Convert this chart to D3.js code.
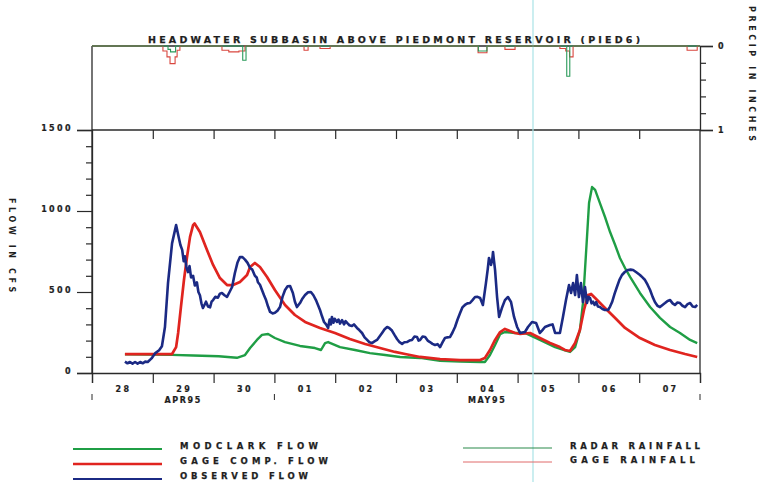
<!DOCTYPE html>
<html>
<head>
<meta charset="utf-8">
<script src="https://cdn.jsdelivr.net/npm/d3@7"></script>
<style>
  html, body { margin: 0; padding: 0; background: #ffffff; }
  svg { display: block; }
  text { font-family: "DejaVu Sans", sans-serif; font-weight: bold; fill: #1e1e1e; }
</style>
</head>
<body>
<svg id="chart" width="759" height="482"></svg>
<script>
// Hours are counted from 28 APR 1995 00:00; flows in cfs, rainfall in inches.
const dayLabels = ["28", "29", "30", "01", "02", "03", "04", "05", "06", "07"];
const monthLabels = [["APR95", 0, 72], ["MAY95", 72, 240]];
const flowTicks = [0, 500, 1000, 1500];
const rainTicks = [0, 1];

const modclarkFlow = [
  [13,115],[31.6,112],[40,108],[50,103],[57.2,94],[60.4,111],[62.4,154],[65.1,204],[67.1,235],
  [69.5,241],[72.2,216],[76.2,191],[82.1,167],[88,154],[90.4,142],[92,185],[93.2,191],[97.9,160],
  [103.8,142],[109.7,123],[115.7,111],[121.6,99],[129.5,93],[137.4,76],[145.3,70],[153.2,68],
  [155.1,68],[157.1,111],[159.1,173],[161.1,240],[163,253],[167,247],[170.9,247],[176.8,204],
  [182.8,160],[186.7,140],[188.7,130],[190.7,160],[192.6,265],[193.8,432],[194.6,636],[195.4,840],
  [196.2,1049],[197.4,1148],[198.6,1130],[200.5,1049],[202.5,963],[204.5,870],[206.5,790],
  [208.4,710],[210.4,648],[212.4,593],[216.3,494],[220.3,407],[224.2,340],[228.2,284],[232.1,247],
  [236.1,204],[238.9,185]
];

const gageCompFlow = [
  [13,117],[31.6,117],[33.2,160],[34,247],[35.1,407],[36.3,574],[37.5,716],[38.7,840],[39.9,913],
  [40.5,923],[42.6,870],[45.4,759],[47.8,667],[50.5,586],[53.3,543],[55.7,543],[58.4,562],
  [61.2,605],[62.4,654],[64.3,679],[66.3,654],[69.1,593],[72.2,512],[76.2,420],[80.1,358],
  [84.1,315],[90,278],[95.9,247],[101.8,210],[107.8,179],[113.7,154],[119.6,130],[123.6,117],
  [129.5,99],[137.4,86],[145.3,80],[153.2,80],[155.1,93],[157.1,142],[159.1,204],[161.1,253],
  [163,272],[165,259],[167,247],[169,241],[172.9,247],[176.8,216],[180.8,185],[184.7,160],
  [186.7,142],[188.7,136],[190.7,185],[192.6,265],[194.2,389],[195.8,481],[197,488],[198.6,463],
  [202.5,401],[206.5,340],[210.4,278],[216.3,216],[222.2,173],[228.2,142],[234.1,117],[238.9,99]
];

const observedFlow = [
  [13,70],[14,60],[15,68],[16,58],[17,68],[18,58],[19,68],[20,60],[21,70],[22,68],[23.5,90],
  [25,123],[26.5,140],[27.6,165],[28.8,284],[30,555],[31.6,800],[33.2,913],[34.2,840],[34.9,790],
  [35.6,760],[36.2,690],[36.7,720],[37.3,650],[37.9,623],[38.5,660],[39.1,590],[39.9,600],
  [40.6,540],[41.4,560],[42,500],[42.6,480],[43.2,430],[43.8,401],[44.4,420],[45,440],[45.8,410],
  [46.6,405],[47.2,440],[47.8,450],[48.7,470],[49.7,465],[50.5,490],[51.3,494],[52.3,480],
  [53.3,470],[54.3,500],[55.3,531],[56.4,617],[57.4,680],[58.4,716],[59.4,715],[60.4,700],
  [61.4,680],[62.4,648],[63.2,640],[64.3,600],[65,590],[65.5,560],[66.3,545],[67.1,512],
  [67.9,480],[68.7,450],[69.5,410],[70.3,377],[71.3,368],[72.2,372],[73.2,385],[74.2,407],
  [75.2,470],[76.2,512],[77.2,535],[78.2,537],[79.3,494],[80.1,440],[80.9,407],[82.1,432],
  [83.1,460],[84.1,481],[85.3,498],[86.4,500],[87.4,480],[88.4,450],[89.2,420],[90,389],
  [90.8,350],[91.6,315],[92.4,300],[93.2,278],[93.8,330],[94.3,300],[94.7,346],[95.3,310],
  [95.8,335],[96.7,315],[97.3,330],[97.9,305],[98.7,327],[99.5,300],[100.1,320],[100.7,309],
  [101.6,295],[102.6,290],[103.4,300],[104.6,278],[105.5,265],[106.6,247],[107.6,220],[108.6,204],
  [109.5,190],[110.5,185],[111.5,195],[112.5,204],[113.5,225],[114.5,247],[115.5,270],[116.5,284],
  [117.3,278],[118.4,262],[119.4,235],[120.4,210],[121.4,190],[122.4,180],[123.3,190],[124.3,191],
  [125.3,200],[126.3,204],[127.3,225],[128.3,222],[128.9,200],[129.5,204],[130.5,225],[131.5,222],
  [132.5,200],[133.4,191],[134.4,180],[135.4,173],[136.4,178],[137.4,160],[138.4,190],[139.3,216],
  [140.3,220],[141.3,222],[142.3,250],[143.3,284],[144.3,330],[145.3,370],[146.2,405],[147.2,420],
  [148.2,430],[149.2,432],[150.2,450],[151.2,469],[152.2,470],[153.2,463],[154.3,420],[155.5,555],
  [156.2,640],[156.7,710],[157.5,667],[158,700],[158.3,747],[158.7,690],[159.1,636],[159.9,469],
  [160.7,346],[161.8,401],[163,450],[164.2,469],[165.4,438],[166.6,346],[167.8,284],[169,247],
  [170.9,253],[172.1,284],[173.7,315],[175.3,309],[176.8,247],[177.8,265],[178.8,284],[180.8,296],
  [181.8,300],[182.8,247],[184.7,247],[185.9,346],[187.1,450],[188.3,543],[189.1,494],[189.9,555],
  [190.7,481],[191.4,605],[192.2,469],[193,555],[193.8,438],[194.6,531],[195.4,432],[196,470],
  [196.6,463],[197.2,430],[197.8,440],[198.4,420],[199,438],[199.7,410],[200.5,407],[201.5,395],
  [202.5,389],[203.7,389],[204.5,410],[205.3,438],[206.3,490],[207.2,531],[208.2,575],[209.2,605],
  [210.4,625],[211.6,636],[212.6,638],[213.6,636],[215,620],[216.3,605],[217.3,590],[218.3,574],
  [219.3,545],[220.3,512],[221.3,470],[222.2,438],[223.2,415],[224.2,407],[225.2,420],[226.2,432],
  [227.2,445],[228.2,450],[229.2,430],[230.1,420],[231.1,435],[232.1,432],[233.1,415],[234.1,407],
  [235.1,425],[236.1,432],[237.1,410],[238.1,407],[238.9,420]
];

// Rainfall as steps: each value holds from its hour until the next entry.
const radarRainfall = [
  [0,0],[30,0.04],[31,0.07],[33,0],[59.5,0.17],[60.8,0],[152.5,0.06],[155.9,0],
  [187.4,0.36],[188.6,0],[240,0]
];
const gageRainfall = [
  [0,0],[28,0.06],[29.6,0.13],[30.8,0.21],[32.8,0.13],[33.6,0.05],[34.7,0],[51.3,0.05],
  [54,0.07],[58,0.06],[60.4,0],[83.7,0.05],[85.3,0],[90,0.03],[94,0],[152.4,0.08],[155.9,0],
  [163,0.04],[167,0],[184.7,0.03],[187,0.06],[188.5,0.13],[189.9,0],[234.9,0.05],[238.9,0],[240,0]
];

const svg = d3.select("#chart");
const AXIS = "#2a2a2a";

const x = d3.scaleLinear().domain([0, 240]).range([92, 700]);
const yFlow = d3.scaleLinear().domain([0, 1500]).range([373, 130]);
const yRain = d3.scaleLinear().domain([0, 1]).range([46, 130]);

// Title
svg.append("text").attr("x", 148).attr("y", 43)
  .attr("font-size", 9.5).attr("textLength", 492).attr("lengthAdjust", "spacing")
  .attr("stroke", "#1e1e1e").attr("stroke-width", 0.25)
  .text("HEADWATER SUBBASIN ABOVE PIEDMONT RESERVOIR (PIED6)");

// Rainfall panel: left edge and right axis
svg.append("line").attr("x1", 92).attr("x2", 92).attr("y1", 46).attr("y2", 373)
  .attr("stroke", AXIS).attr("stroke-width", 1.3);
const rainAxis = svg.append("g").attr("transform", "translate(700,0)")
  .call(d3.axisRight(yRain).tickValues(rainTicks).tickSize(13).tickPadding(5).tickFormat(d3.format("d")));
svg.append("g").attr("transform", "translate(700,0)")
  .call(d3.axisRight(yRain).tickValues([0.2, 0.4, 0.6, 0.8]).tickSize(6).tickFormat(""))
  .select(".domain").remove();
svg.append("line").attr("x1", 92).attr("x2", 700).attr("y1", yRain(0)).attr("y2", yRain(0))
  .attr("stroke", AXIS).attr("stroke-width", 1.3);

// Main frame
svg.append("line").attr("x1", 92).attr("x2", 700).attr("y1", 130).attr("y2", 130)
  .attr("stroke", AXIS).attr("stroke-width", 1.3);
svg.append("line").attr("x1", 700).attr("x2", 700).attr("y1", 130).attr("y2", 373)
  .attr("stroke", AXIS).attr("stroke-width", 1.3);

// Flow axis
const flowAxis = svg.append("g").attr("transform", "translate(92,0)")
  .call(d3.axisLeft(yFlow).tickValues(flowTicks).tickSize(15).tickPadding(5).tickFormat(d3.format("d")));
svg.append("g").attr("transform", "translate(92,0)")
  .call(d3.axisLeft(yFlow).tickValues(d3.range(100, 1500, 100).filter(v => v % 500)).tickSize(6).tickFormat(""))
  .select(".domain").remove();

// Day axis along the bottom
const dayBounds = d3.range(0, 241, 24);
const bottomAxis = svg.append("g").attr("transform", "translate(0,373)")
  .call(d3.axisBottom(x).tickValues(dayBounds).tickSize(10).tickFormat(""));
// Day ticks hanging under the top edge
svg.append("g").attr("transform", "translate(0,130)")
  .call(d3.axisBottom(x).tickValues(dayBounds.slice(1, -1)).tickSize(9).tickFormat(""))
  .select(".domain").remove();

svg.selectAll("g .domain").attr("stroke", AXIS).attr("stroke-width", 1.3);
svg.selectAll("g .tick line").attr("stroke", AXIS).attr("stroke-width", 1.2);
svg.selectAll("g .tick text").attr("font-family", "DejaVu Sans").attr("font-weight", "bold")
  .attr("font-size", 8).attr("letter-spacing", 2.4).attr("fill", "#1e1e1e")
  .attr("stroke", "#1e1e1e").attr("stroke-width", 0.2);
flowAxis.selectAll(".tick text").attr("dy", "0.12em").attr("x", -19);
rainAxis.selectAll(".tick text").attr("x", 18).attr("dy", "0.3em");

// Day labels centred on each day
svg.append("g").selectAll("text").data(dayLabels).join("text")
  .attr("x", (d, i) => x(i * 24 + 12) + 1).attr("y", 392)
  .attr("text-anchor", "middle").attr("font-size", 8).attr("letter-spacing", 2.4)
  .attr("stroke", "#1e1e1e").attr("stroke-width", 0.2)
  .text(d => d);

// Month separators and labels
svg.append("g").selectAll("line").data([0, 72, 240]).join("line")
  .attr("x1", d => x(d)).attr("x2", d => x(d)).attr("y1", 394).attr("y2", 400)
  .attr("stroke", AXIS).attr("stroke-width", 1);
svg.append("g").selectAll("text").data(monthLabels).join("text")
  .attr("x", d => x((d[1] + d[2]) / 2)).attr("y", 403)
  .attr("text-anchor", "middle").attr("font-size", 8).attr("letter-spacing", 1.6)
  .attr("stroke", "#1e1e1e").attr("stroke-width", 0.2)
  .text(d => d[0]);

// Axis titles
svg.append("text").attr("transform", "translate(9,198) rotate(90)")
  .attr("font-size", 8).attr("letter-spacing", 3.6).text("FLOW IN CFS");
svg.append("text").attr("transform", "translate(749,6) rotate(90)")
  .attr("font-size", 8).attr("letter-spacing", 3.6).text("PRECIP IN INCHES");

// Reference marker line
svg.append("line").attr("x1", 533).attr("x2", 533).attr("y1", 0).attr("y2", 482)
  .attr("stroke", "#a9e3e6").attr("stroke-width", 1.2);

// Rainfall steps
const rainLine = d3.line().x(d => x(d[0])).y(d => yRain(d[1])).curve(d3.curveStepAfter);
svg.append("path").datum(gageRainfall).attr("d", rainLine)
  .attr("fill", "none").attr("stroke", "#d9473f").attr("stroke-width", 1.1);
svg.append("path").datum(radarRainfall).attr("d", rainLine)
  .attr("fill", "none").attr("stroke", "#2a9a5a").attr("stroke-width", 1.1);

// Flow hydrographs
const flowLine = d3.line().x(d => x(d[0])).y(d => yFlow(d[1])).curve(d3.curveLinear);
const series = [
  { name: "MODCLARK FLOW", data: modclarkFlow, color: "#1f9e45", width: 2.4 },
  { name: "GAGE COMP. FLOW", data: gageCompFlow, color: "#e0241f", width: 2.7 },
  { name: "OBSERVED FLOW", data: observedFlow, color: "#1b2a84", width: 2.6 }
];
series.forEach(s => {
  svg.append("path").datum(s.data).attr("d", flowLine)
    .attr("fill", "none").attr("stroke", s.color).attr("stroke-width", s.width)
    .attr("stroke-linejoin", "round");
});

// Legend
const legendLeft = [
  { label: "MODCLARK FLOW", color: "#1f9e45", w: 2, len: 138 },
  { label: "GAGE COMP. FLOW", color: "#e0241f", w: 2.4, len: 148 },
  { label: "OBSERVED FLOW", color: "#1b2a84", w: 2, len: 128 }
];
const legendRight = [
  { label: "RADAR RAINFALL", color: "#2a8a4a", w: 1.2, len: 130 },
  { label: "GAGE RAINFALL", color: "#e06a6a", w: 1, len: 125 }
];
legendLeft.forEach((d, i) => {
  const yy = 449 + i * 15;
  svg.append("line").attr("x1", 73).attr("x2", 162).attr("y1", yy).attr("y2", yy)
    .attr("stroke", d.color).attr("stroke-width", d.w);
  svg.append("text").attr("x", 180).attr("y", yy).attr("font-size", 8.5)
    .attr("stroke", "#1e1e1e").attr("stroke-width", 0.25)
    .attr("textLength", d.len).attr("lengthAdjust", "spacing").text(d.label);
});
legendRight.forEach((d, i) => {
  const yy = 448 + i * 14;
  svg.append("line").attr("x1", 463).attr("x2", 552).attr("y1", yy).attr("y2", yy)
    .attr("stroke", d.color).attr("stroke-width", d.w);
  svg.append("text").attr("x", 570).attr("y", yy + 1).attr("font-size", 8.5)
    .attr("stroke", "#1e1e1e").attr("stroke-width", 0.25)
    .attr("textLength", d.len).attr("lengthAdjust", "spacing").text(d.label);
});
</script>
</body>
</html>
